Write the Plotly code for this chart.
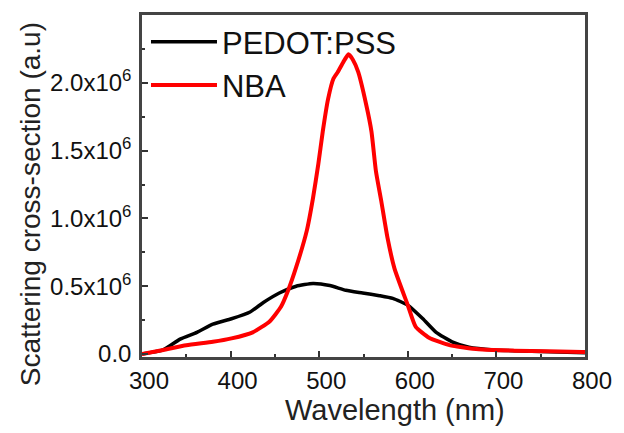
import plotly.graph_objects as go

wl_pedot = [300, 324, 343, 362, 380, 401, 422, 437, 455, 474, 493, 512, 530, 549, 568, 583, 600,
            617, 632, 650, 669, 697, 740, 800]
pedot = [0.0, 0.03, 0.11, 0.16, 0.22, 0.26, 0.31, 0.38, 0.45, 0.50, 0.52, 0.505, 0.47, 0.45, 0.43,
         0.41, 0.36, 0.26, 0.16, 0.09, 0.05, 0.03, 0.02, 0.01]

wl_nba = [300, 324, 350, 380, 401, 425, 444, 457, 465, 474, 486, 493, 499, 504, 510, 516, 521,
          527, 533, 538, 544, 553, 559, 564, 570, 577, 585, 600, 609, 624, 647, 680, 720, 797, 800]
nba = [0.0, 0.03, 0.065, 0.09, 0.115, 0.16, 0.24, 0.35, 0.47, 0.64, 0.91, 1.15, 1.40, 1.64, 1.88,
       2.03, 2.08, 2.15, 2.21, 2.17, 2.08, 1.84, 1.64, 1.35, 1.13, 0.86, 0.63, 0.36, 0.20, 0.12,
       0.066, 0.035, 0.025, 0.015, 0.015]

y_tickvals = [0, 0.5, 1.0, 1.5, 2.0]
y_ticktext = ["0.0", "0.5x10<sup>6</sup>", "1.0x10<sup>6</sup>", "1.5x10<sup>6</sup>", "2.0x10<sup>6</sup>"]
x_tickvals = [300, 400, 500, 600, 700, 800]
x_title = "Wavelength (nm)"
y_title = "Scattering cross-section (a.u)"

fig = go.Figure()
fig.add_trace(go.Scatter(x=wl_pedot, y=pedot, mode="lines", name="PEDOT:PSS",
                         line=dict(color="#000000", width=3.5, shape="spline", smoothing=0.5)))
fig.add_trace(go.Scatter(x=wl_nba, y=nba, mode="lines", name="NBA",
                         line=dict(color="#ff0000", width=4, shape="spline", smoothing=0.5)))

font_family = "Liberation Sans, Arial, sans-serif"
fig.update_layout(
    width=624, height=433,
    margin=dict(l=142, r=38, t=13, b=76),
    paper_bgcolor="white", plot_bgcolor="white",
    font=dict(family=font_family, color="#111"),
    showlegend=True,
    legend=dict(x=0.009, y=1.0, xanchor="left", yanchor="top",
                bgcolor="rgba(0,0,0,0)", font=dict(size=31, color="#111"),
                itemwidth=66, tracegroupgap=4),
    xaxis=dict(range=[300, 800], tickvals=x_tickvals, ticks="inside", ticklen=6,
               tickwidth=2, tickcolor="#333", showline=True, linecolor="#444", linewidth=2.5,
               mirror=True, showgrid=False, zeroline=False, ticklabelshift=7,
               tickfont=dict(size=24, family=font_family, color="#111"),
               minor=dict(dtick=50, ticks="inside", ticklen=3, tickwidth=1.5, tickcolor="#333")),
    yaxis=dict(range=[-0.022, 2.5], tickvals=y_tickvals, ticktext=y_ticktext, ticks="inside",
               ticklen=6, tickwidth=2, tickcolor="#333", showline=True, linecolor="#444",
               linewidth=2.5, mirror=True, showgrid=False, zeroline=False, ticklabelstandoff=3,
               tickfont=dict(size=24, family=font_family, color="#111"),
               minor=dict(tickvals=[0.25, 0.75, 1.25, 1.75, 2.25], ticks="inside", ticklen=3,
                          tickwidth=1.5, tickcolor="#333")),
    annotations=[
        dict(text=x_title, xref="paper", yref="paper", x=0.572, y=-0.155,
             xanchor="center", yanchor="middle", showarrow=False,
             font=dict(size=29, color="#222", family=font_family)),
        dict(text=y_title, xref="paper", yref="paper", x=-0.252, y=0.448, textangle=-90,
             xanchor="center", yanchor="middle", showarrow=False,
             font=dict(size=28, color="#222", family=font_family)),
    ],
)

fig.write_html("out.html")
